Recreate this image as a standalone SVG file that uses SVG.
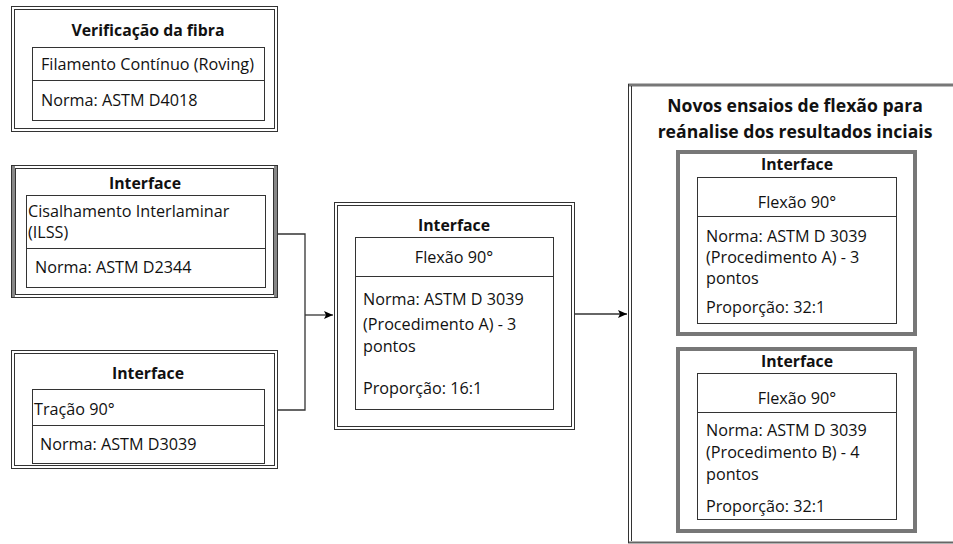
<svg xmlns="http://www.w3.org/2000/svg" width="953" height="544" viewBox="0 0 953 544">
<defs>
<marker id="arr" markerWidth="10" markerHeight="10" refX="9" refY="5" orient="auto" markerUnits="userSpaceOnUse">
<path d="M0,1 L9,5 L0,9 L2,5 Z" fill="#000"/>
</marker>
<style>
text{font-family:"Open Sans","Noto Sans","Liberation Sans",sans-serif;font-size:16.2px;fill:#111}
.b{font-weight:bold;font-size:15.8px}
.t{font-weight:bold;font-size:17.6px}
.c{text-anchor:middle}
.o{fill:#fff;stroke:#333;stroke-width:1}
.i{fill:none;stroke:#333;stroke-width:1}
.g{fill:none;stroke:#777;stroke-width:4}
.gs{stroke:#888;stroke-width:3}
.ln{stroke:#333;stroke-width:1;fill:none}
.cn{stroke:#333;stroke-width:1.3;fill:none}
</style>
</defs>
<rect width="953" height="544" fill="#fff"/>

<g id="connectors">
<polyline class="cn" points="278,234 305,234 305,410 278,410"/>
<line class="cn" x1="305" y1="315" x2="333" y2="315" marker-end="url(#arr)"/>
<line class="cn" x1="575" y1="314" x2="627" y2="314" marker-end="url(#arr)"/>
</g>

<g id="verificacao">
<rect class="o" x="11.5" y="6.5" width="266" height="125"/>
<rect class="i" x="14.5" y="9.5" width="260" height="119"/>
<text class="b c" x="148" y="36">Verificação da fibra</text>
<rect class="i" x="32.5" y="47.5" width="232" height="73"/>
<line class="ln" x1="32.5" y1="80.5" x2="264.5" y2="80.5"/>
<text x="41" y="70">Filamento Contínuo (Roving)</text>
<text x="41" y="106">Norma: ASTM D4018</text>
</g>

<g id="ilss">
<rect class="o" x="11.5" y="165.5" width="266" height="132"/>
<line class="gs" x1="13.5" y1="166" x2="13.5" y2="297"/>
<line class="gs" x1="275.5" y1="166" x2="275.5" y2="297"/>
<rect class="i" x="15.5" y="168.5" width="258" height="126"/>
<text class="b c" x="145" y="189">Interface</text>
<rect class="i" x="26.5" y="195.5" width="239" height="92"/>
<line class="ln" x1="26.5" y1="248.5" x2="265.5" y2="248.5"/>
<text x="28" y="217">Cisalhamento Interlaminar</text>
<text x="28" y="238">(ILSS)</text>
<text x="35" y="273">Norma: ASTM D2344</text>
</g>

<g id="tracao">
<rect class="o" x="11.5" y="350.5" width="266" height="118"/>
<rect class="i" x="14.5" y="353.5" width="260" height="112"/>
<text class="b c" x="148" y="379">Interface</text>
<rect class="i" x="32.5" y="389.5" width="232" height="74"/>
<line class="ln" x1="32.5" y1="425.5" x2="264.5" y2="425.5"/>
<text x="34" y="415">Tração 90°</text>
<text x="40" y="450">Norma: ASTM D3039</text>
</g>

<g id="flexao16">
<rect class="o" x="334.5" y="202.5" width="240" height="227"/>
<rect class="i" x="337.5" y="205.5" width="234" height="221"/>
<text class="b c" x="454" y="231">Interface</text>
<rect class="i" x="355.5" y="237.5" width="198" height="172"/>
<line class="ln" x1="355.5" y1="276.5" x2="553.5" y2="276.5"/>
<text class="c" x="454" y="263">Flexão 90°</text>
<text x="363" y="305">Norma: ASTM D 3039</text>
<text x="363" y="330">(Procedimento A) - 3</text>
<text x="363" y="352">pontos</text>
<text x="363" y="394">Proporção: 16:1</text>
</g>

<g id="novos">
<line x1="628" y1="85" x2="953" y2="85" stroke="#777" stroke-width="3"/>
<line x1="628" y1="542.5" x2="953" y2="542.5" stroke="#666" stroke-width="2"/>
<line class="ln" x1="628.5" y1="84" x2="628.5" y2="543"/>
<line class="ln" x1="631.5" y1="86" x2="631.5" y2="541"/>
<text class="t c" x="795" y="112">Novos ensaios de flexão para</text>
<text class="t c" x="795" y="138">reánalise dos resultados inciais</text>
</g>

<g id="flexao32a">
<rect class="g" x="678" y="152" width="237" height="182"/>
<text class="b c" x="797" y="170">Interface</text>
<rect class="i" x="697.5" y="177.5" width="199" height="146"/>
<line class="ln" x1="697.5" y1="216.5" x2="896.5" y2="216.5"/>
<text class="c" x="797" y="208">Flexão 90°</text>
<text x="706" y="242">Norma: ASTM D 3039</text>
<text x="706" y="263">(Procedimento A) - 3</text>
<text x="706" y="284">pontos</text>
<text x="706" y="313">Proporção: 32:1</text>
</g>

<g id="flexao32b">
<rect class="g" x="678" y="349" width="237" height="182"/>
<text class="b c" x="797" y="367">Interface</text>
<rect class="i" x="697.5" y="373.5" width="199" height="146"/>
<line class="ln" x1="697.5" y1="412.5" x2="896.5" y2="412.5"/>
<text class="c" x="797" y="404">Flexão 90°</text>
<text x="706" y="436">Norma: ASTM D 3039</text>
<text x="706" y="458">(Procedimento B) - 4</text>
<text x="706" y="480">pontos</text>
<text x="706" y="512">Proporção: 32:1</text>
</g>
</svg>
